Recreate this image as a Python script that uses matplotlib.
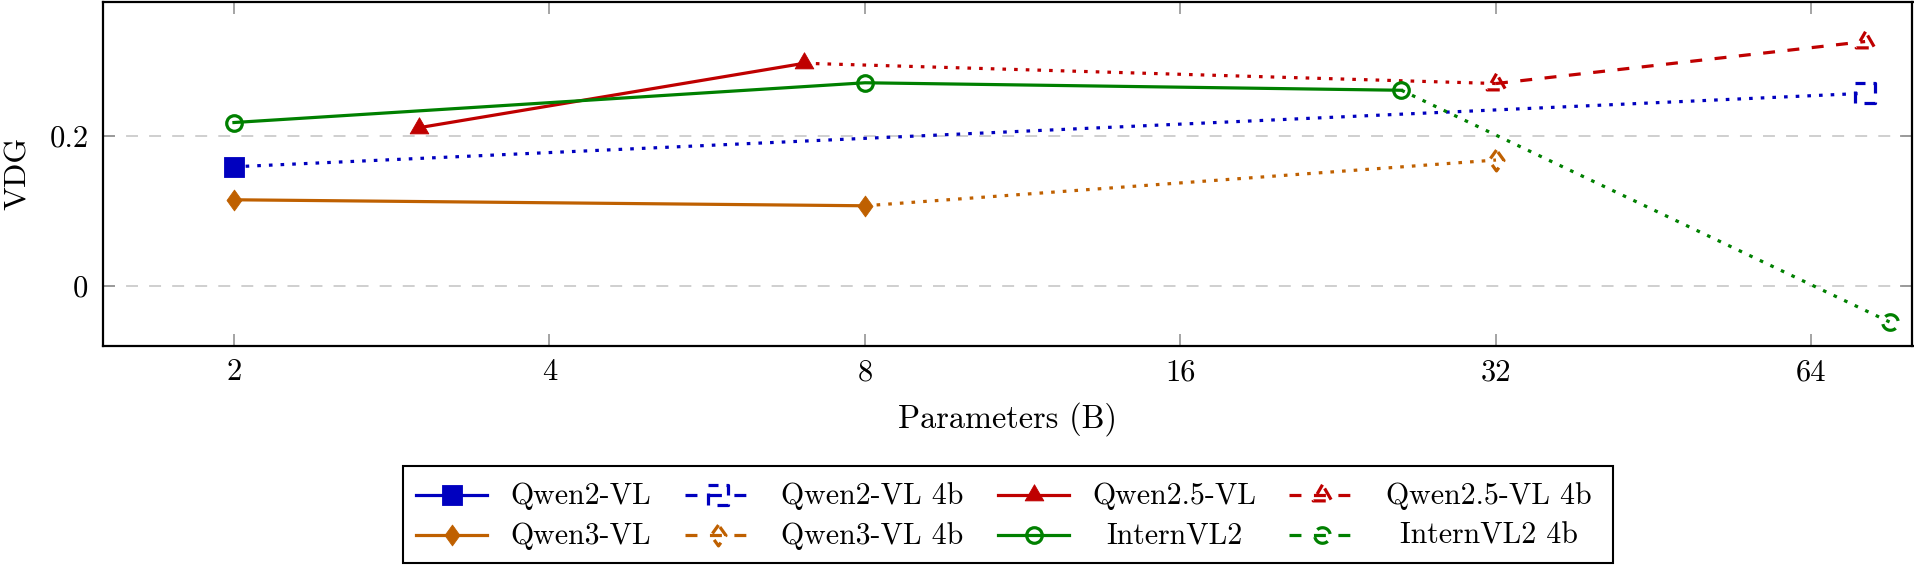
import numpy as np
import matplotlib
matplotlib.use("Agg")
import matplotlib.pyplot as plt
from matplotlib.path import Path
from matplotlib.patches import Rectangle
from matplotlib.ticker import NullLocator

# ---------------- data ----------------
qwen2_x = [2]
qwen2_y = [0.159]
qwen2_4b_x = [72]
qwen2_4b_y = [0.257]

qwen25_x = [3, 7]
qwen25_y = [0.211, 0.297]
qwen25_4b_x = [32, 72]
qwen25_4b_y = [0.270, 0.326]

qwen3_x = [2, 8]
qwen3_y = [0.115, 0.107]
qwen3_4b_x = [32]
qwen3_4b_y = [0.168]

internvl2_x = [2, 8, 26]
internvl2_y = [0.218, 0.271, 0.261]
internvl2_4b_x = [76]
internvl2_4b_y = [-0.048]

x_ticks = [2, 4, 8, 16, 32, 64]
x_tick_labels = ["2", "4", "8", "16", "32", "64"]
y_ticks = [0, 0.2]
y_tick_labels = ["0", "0.2"]

# ---------------- style ----------------
plt.rcParams["font.family"] = ["cmr10", "DejaVu Serif"]
plt.rcParams["mathtext.fontset"] = "cm"
plt.rcParams["axes.unicode_minus"] = False
plt.rcParams["axes.formatter.use_mathtext"] = True
plt.rcParams["lines.scale_dashes"] = False

BLUE = "#0000BF"
RED = "#BF0000"
ORANGE = "#BF6000"
GREEN = "#008000"

LW = 2.3
DOT = (0, (2.6, 5.8))
DASH = (0, (8.6, 9.0))


def dashed_outline(verts, on, off, phase=0.0, closed=True):
    """Build an open (stroked only) marker path that looks like a dashed outline."""
    v = np.asarray(verts, float)
    if closed:
        v = np.vstack([v, v[:1]])
    seg_len = np.hypot(*np.diff(v, axis=0).T)
    total = seg_len.sum()
    cum = np.concatenate([[0], np.cumsum(seg_len)])

    def point_at(s):
        i = np.searchsorted(cum, s, side="right") - 1
        i = min(max(i, 0), len(seg_len) - 1)
        t = (s - cum[i]) / seg_len[i] if seg_len[i] > 0 else 0
        return v[i] + t * (v[i + 1] - v[i])

    verts_out, codes = [(0.0, 1.0)], [Path.MOVETO]  # anchors for normalisation
    verts_out.append((0.0, -1.0)); codes.append(Path.MOVETO)
    s = -phase
    while s < total:
        a, b = max(s, 0), min(s + on, total)
        if b > a:
            pts = [point_at(a)]
            for c in cum[1:-1]:
                if a < c < b:
                    pts.append(point_at(c))
            pts.append(point_at(b))
            verts_out.append(tuple(pts[0])); codes.append(Path.MOVETO)
            for p in pts[1:]:
                verts_out.append(tuple(p)); codes.append(Path.LINETO)
        s += on + off
    return Path(verts_out, codes)


SQ = [(-1, -1), (1, -1), (1, 1), (-1, 1)]
TRI = [(0, 1), (-0.866, -0.5), (0.866, -0.5)]
DIA = [(0, 1), (-0.72, 0), (0, -1), (0.72, 0)]
theta = np.linspace(0, 2 * np.pi, 73)[:-1]
CIRC = np.c_[np.cos(theta), np.sin(theta)]

m_square = Path(SQ + [SQ[0]], closed=True)
m_tri = Path(TRI + [TRI[0]], closed=True)
m_dia = Path(DIA + [DIA[0]], closed=True)

m_square_d = dashed_outline(SQ[::-1], 1.25, 0.85, phase=0.3)
m_tri_d = dashed_outline(TRI, 1.2, 0.7, phase=0.2)
m_dia_d = dashed_outline(DIA, 1.1, 0.75, phase=0.1)
m_circ_d = dashed_outline(CIRC, 2.1, 1.05, phase=-0.2)

styles = {
    "Qwen2-VL": dict(color=BLUE, marker=m_square, ms=14, mfc=BLUE, mec=BLUE, mew=0.6, ls="-"),
    "Qwen2-VL 4b": dict(color=BLUE, marker=m_square_d, ms=14, fillstyle="none", mec=BLUE, mew=LW, ls=DASH),
    "Qwen2.5-VL": dict(color=RED, marker=m_tri, ms=15.5, mfc=RED, mec=RED, mew=0.6, ls="-"),
    "Qwen2.5-VL 4b": dict(color=RED, marker=m_tri_d, ms=15.5, fillstyle="none", mec=RED, mew=LW, ls=DASH),
    "Qwen3-VL": dict(color=ORANGE, marker=m_dia, ms=15, mfc=ORANGE, mec=ORANGE, mew=0.6, ls="-"),
    "Qwen3-VL 4b": dict(color=ORANGE, marker=m_dia_d, ms=15, fillstyle="none", mec=ORANGE, mew=LW, ls=DASH),
    "InternVL2": dict(color=GREEN, marker="o", ms=11.2, fillstyle="none", mec=GREEN, mew=LW, ls="-"),
    "InternVL2 4b": dict(color=GREEN, marker=m_circ_d, ms=11.2, fillstyle="none", mec=GREEN, mew=LW, ls=DASH),
}

series = [
    ("Qwen2-VL", qwen2_x, qwen2_y),
    ("Qwen2-VL 4b", qwen2_4b_x, qwen2_4b_y),
    ("Qwen2.5-VL", qwen25_x, qwen25_y),
    ("Qwen2.5-VL 4b", qwen25_4b_x, qwen25_4b_y),
    ("Qwen3-VL", qwen3_x, qwen3_y),
    ("Qwen3-VL 4b", qwen3_4b_x, qwen3_4b_y),
    ("InternVL2", internvl2_x, internvl2_y),
    ("InternVL2 4b", internvl2_4b_x, internvl2_4b_y),
]

connectors = [
    (BLUE, qwen2_x, qwen2_y, qwen2_4b_x, qwen2_4b_y),
    (RED, qwen25_x, qwen25_y, qwen25_4b_x, qwen25_4b_y),
    (ORANGE, qwen3_x, qwen3_y, qwen3_4b_x, qwen3_4b_y),
    (GREEN, internvl2_x, internvl2_y, internvl2_4b_x, internvl2_4b_y),
]

# ---------------- figure ----------------
W, H = 1915, 565
fig = plt.figure(figsize=(W / 100, H / 100), dpi=100)
ax_l, ax_r, ax_t, ax_b = 103, 1912.5, 2, 345.5
ax = fig.add_axes([ax_l / W, 1 - ax_b / H, (ax_r - ax_l) / W, (ax_b - ax_t) / H])

ax.set_xscale("log", base=2)
ax.set_xlim(1.5, 79.9)
ax.set_ylim(-0.0793, 0.3787)

for color, bx, by, qx, qy in connectors:
    ax.plot([bx[-1], qx[0]], [by[-1], qy[0]], color=color, lw=LW, ls=DOT,
            dash_capstyle="butt", zorder=2)

for name, xs, ys in series:
    st = dict(styles[name])
    ls = st.pop("ls")
    ax.plot(xs, ys, linestyle=ls, lw=LW, zorder=3, dash_capstyle="butt", **st)

ax.set_xticks(x_ticks)
ax.set_xticklabels(x_tick_labels)
ax.xaxis.set_minor_locator(NullLocator())
ax.set_yticks(y_ticks)
ax.set_yticklabels(y_tick_labels)
ax.yaxis.set_minor_locator(NullLocator())
ax.tick_params(direction="in", length=8.5, width=1.1, color="#8c8c8c",
               top=True, right=True, labelsize=22)
ax.tick_params(axis="x", pad=9.5)
ax.tick_params(axis="y", pad=10.5)

ax.grid(axis="y", color="#cccccc", lw=1.3, ls=(0, (8.6, 8.0)))
ax.set_axisbelow(True)
for sp in ax.spines.values():
    sp.set_linewidth(1.6)
    sp.set_color("black")

ax.set_xlabel("Parameters (B)", fontsize=23.3)
ax.xaxis.label.set_verticalalignment("baseline")
ax.xaxis.set_label_coords(0.5, (ax_b - 428) / (ax_b - ax_t))
ax.set_ylabel("VDG", fontsize=23)
ax.yaxis.label.set_verticalalignment("center")
ax.yaxis.set_label_coords((18 - ax_l) / (ax_r - ax_l), 0.5)

# ---------------- legend (drawn in pixel coordinates) ----------------
lax = fig.add_axes([0, 0, 1, 1])
lax.set_xlim(0, W)
lax.set_ylim(H, 0)
lax.axis("off")
lax.add_patch(Rectangle((403.5, 465.5), 1210, 97, fill=False, lw=1.5, ec="black"))

legend_rows = [
    ["Qwen2-VL", "Qwen2-VL 4b", "Qwen2.5-VL", "Qwen2.5-VL 4b"],
    ["Qwen3-VL", "Qwen3-VL 4b", "InternVL2", "InternVL2 4b"],
]
handle_cx = [452, 718, 1034, 1322]
text_cx = [581, 872, 1174, 1489]
row_cy = [495, 535]
for r, row in enumerate(legend_rows):
    for c, name in enumerate(row):
        st = dict(styles[name])
        ls = st.pop("ls")
        half = 35.5 if ls == "-" else 33
        cx, cy = handle_cx[c], row_cy[r]
        lax.plot([cx - half, cx + half], [cy, cy], linestyle=ls, lw=LW,
                 dash_capstyle="butt", color=st.pop("color"), marker=None)
        lax.plot([cx], [cy], linestyle="none", **st)
        lax.text(text_cx[c], cy + 8.5, name, ha="center", va="baseline", fontsize=21.5)

fig.savefig("out.png", dpi=100)
